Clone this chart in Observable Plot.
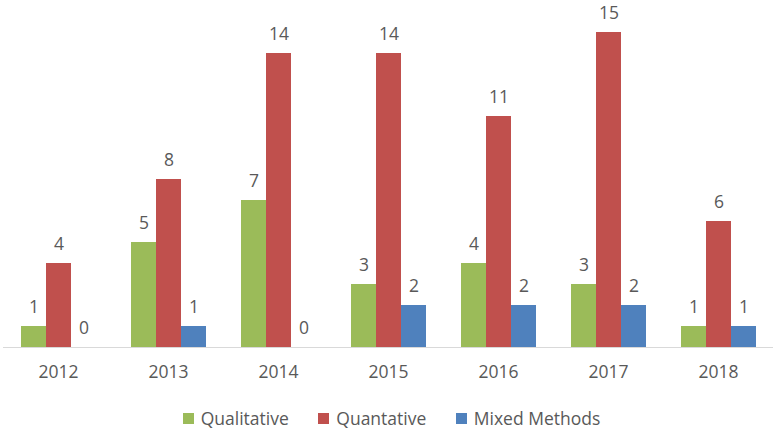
<!DOCTYPE html>
<html>
<head>
<meta charset="utf-8">
<script src="https://cdn.jsdelivr.net/npm/d3@7"></script>
<script src="https://cdn.jsdelivr.net/npm/@observablehq/plot@0.6"></script>
<style>
  html, body { margin: 0; padding: 0; background: #ffffff; overflow: hidden; }
  #chart { width: 776px; height: 430px; font-family: "Open Sans", sans-serif; color: #595959; }
  #chart svg { display: block; }
  .legend { display: flex; justify-content: center; align-items: center; font-size: 17.5px; line-height: 22px; color: #595959; margin-top: 12px; padding-left: 7px; }
  .legend .item { display: flex; align-items: center; margin: 0 14.75px; }
  .legend .sw { width: 11px; height: 11px; margin-right: 7px; display: inline-block; }
</style>
</head>
<body>
<div id="chart"></div>
<script>
const years = ["2012", "2013", "2014", "2015", "2016", "2017", "2018"];
const seriesNames = ["Qualitative", "Quantative", "Mixed Methods"];
const qualitative = [1, 5, 7, 3, 4, 3, 1];
const quantative = [4, 8, 14, 14, 11, 15, 6];
const mixedMethods = [0, 1, 0, 2, 2, 2, 1];
const colors = ["#9BBB59", "#C0504D", "#4F81BD"];

const seriesValues = [qualitative, quantative, mixedMethods];
const data = [];
years.forEach((yr, i) => {
  seriesNames.forEach((s, j) => {
    data.push({year: yr, series: s, value: seriesValues[j][i]});
  });
});

const chart = Plot.plot({
  width: 776,
  height: 395,
  marginTop: 11,
  marginBottom: 48,
  marginLeft: 0,
  marginRight: 0,
  style: {fontFamily: "'Open Sans', sans-serif", fontSize: "17.5px", color: "#595959", background: "#ffffff", overflow: "visible"},
  fx: {domain: years, padding: 0, range: [0, 776], axis: "bottom", tickSize: 0, tickPadding: 18, label: null, fontSize: 17.5},
  x: {domain: seriesNames, paddingInner: 0, paddingOuter: 0.68, axis: null},
  y: {domain: [0, 16], axis: null},
  color: {domain: seriesNames, range: colors},
  marks: [
    Plot.barY(data, {fx: "year", x: "series", y: "value", fill: "series"}),
    Plot.ruleY([0], {stroke: "#d9d9d9", strokeWidth: 1}),
    Plot.text(data, {fx: "year", x: "series", y: "value", text: d => String(d.value), dy: -19.5, fill: "#595959", fontSize: 17.5})
  ]
});

const root = document.getElementById("chart");
root.appendChild(chart);

const legend = document.createElement("div");
legend.className = "legend";
seriesNames.forEach((s, i) => {
  const item = document.createElement("div");
  item.className = "item";
  const sw = document.createElement("span");
  sw.className = "sw";
  sw.style.background = colors[i];
  const lab = document.createElement("span");
  lab.textContent = s;
  item.appendChild(sw);
  item.appendChild(lab);
  legend.appendChild(item);
});
root.appendChild(legend);
</script>
</body>
</html>
